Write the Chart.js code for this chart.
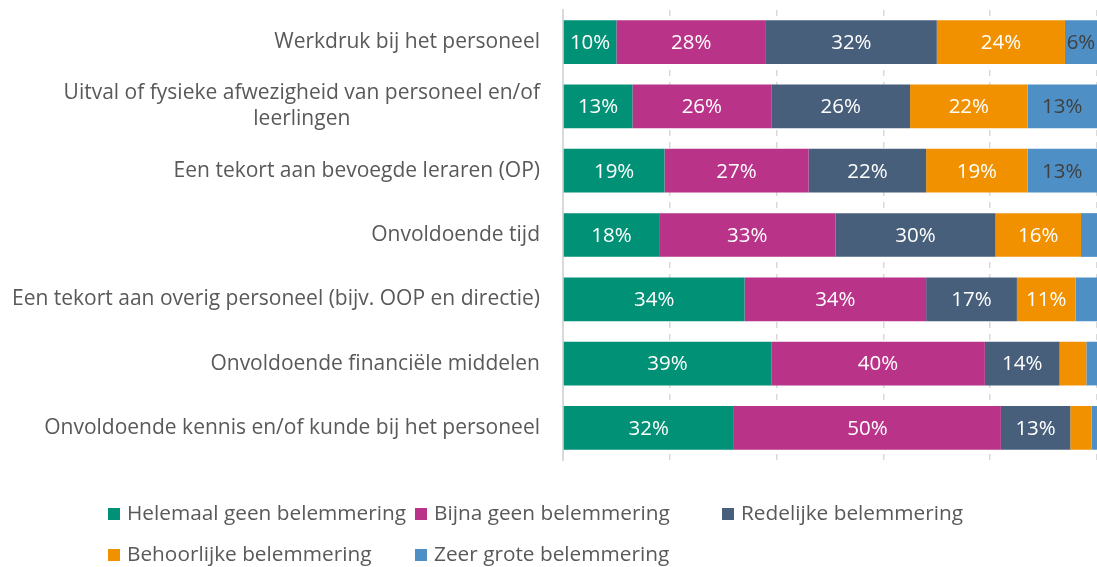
<!DOCTYPE html>
<html>
<head>
<meta charset="utf-8">
<script src="https://cdn.jsdelivr.net/npm/chart.js@4"></script>
<style>
  body { margin: 0; background: #fff; }
  #wrap { position: relative; width: 1097px; height: 567px; }
  #legend { position: absolute; left: 0; top: 0; width: 1097px; height: 567px; pointer-events: none;
            font-family: "Open Sans", sans-serif; font-size: 20.8px; color: #595959; }
  .item { position: absolute; white-space: nowrap; line-height: 26px; }
  .box { display: inline-block; width: 12px; height: 12px; margin-right: 7px; vertical-align: 0px; }
</style>
</head>
<body>
<div id="wrap">
  <canvas id="chart" width="1097" height="567"></canvas>
  <div id="legend"></div>
</div>
<script>
var categories = [
    'Werkdruk bij het personeel',
    ['Uitval of fysieke afwezigheid van personeel en/of', 'leerlingen'],
    'Een tekort aan bevoegde leraren (OP)',
    'Onvoldoende tijd',
    'Een tekort aan overig personeel (bijv. OOP en directie)',
    'Onvoldoende financiële middelen',
    'Onvoldoende kennis en/of kunde bij het personeel'
];
var seriesNames = ['Helemaal geen belemmering', 'Bijna geen belemmering', 'Redelijke belemmering',
                   'Behoorlijke belemmering', 'Zeer grote belemmering'];
var helemaalGeen = [10, 13, 19, 18, 34, 39, 32];
var bijnaGeen    = [28, 26, 27, 33, 34, 40, 50];
var redelijk     = [32, 26, 22, 30, 17, 14, 13];
var behoorlijk   = [24, 22, 19, 16, 11, 5, 4];
var zeerGroot    = [6, 13, 13, 3, 4, 2, 1];
var xTicks = [0, 20, 40, 60, 80, 100];

var colors = ['#009176', '#B93389', '#475F7B', '#F29100', '#4E8FC5'];
var labelColors = ['#ffffff', '#ffffff', '#ffffff', '#ffffff', '#404040'];
var allValues = [helemaalGeen, bijnaGeen, redelijk, behoorlijk, zeerGroot];

var FONT = '"Open Sans", sans-serif';

var datasets = allValues.map(function (vals, i) {
    return {
        label: seriesNames[i],
        data: vals,
        backgroundColor: colors[i],
        borderWidth: 0,
        barPercentage: 0.68,
        categoryPercentage: 1
    };
});

// percentages inside the segments
var barLabels = {
    id: 'barLabels',
    afterDatasetsDraw: function (chart) {
        var ctx = chart.ctx;
        ctx.save();
        ctx.font = '20.5px ' + FONT;
        ctx.textAlign = 'center';
        ctx.textBaseline = 'middle';
        chart.data.datasets.forEach(function (ds, di) {
            var meta = chart.getDatasetMeta(di);
            meta.data.forEach(function (bar, i) {
                var v = ds.data[i];
                if (v < 6) return;
                ctx.fillStyle = labelColors[di];
                ctx.fillText(v + '%', (bar.x + bar.base) / 2, bar.y + 1);
            });
        });
        ctx.restore();
    }
};

// category labels, multi-line ones centred on their own block
var catLabels = {
    id: 'catLabels',
    afterDraw: function (chart) {
        var ctx = chart.ctx;
        var y = chart.scales.y;
        var right = chart.chartArea.left - 23;
        ctx.save();
        ctx.font = '21px ' + FONT;
        ctx.fillStyle = '#595959';
        ctx.textAlign = 'center';
        ctx.textBaseline = 'middle';
        categories.forEach(function (lab, i) {
            var lines = Array.isArray(lab) ? lab : [lab];
            var w = Math.max.apply(null, lines.map(function (l) { return ctx.measureText(l).width; }));
            var cy = y.getPixelForValue(i);
            var lh = 26;
            lines.forEach(function (l, k) {
                ctx.fillText(l, right - w / 2, cy + (k - (lines.length - 1) / 2) * lh);
            });
        });
        ctx.restore();
    }
};

var ctx = document.getElementById('chart').getContext('2d');
var chart = new Chart(ctx, {
    type: 'bar',
    data: { labels: categories, datasets: datasets },
    plugins: [barLabels, catLabels],
    options: {
        indexAxis: 'y',
        responsive: false,
        animation: false,
        layout: { padding: { top: 10, bottom: 107, right: 0, left: 0 } },
        plugins: { legend: { display: false }, tooltip: { enabled: false } },
        scales: {
            x: {
                stacked: true,
                min: 0,
                max: 100,
                afterBuildTicks: function (s) { s.ticks = xTicks.map(function (v) { return { value: v }; }); },
                ticks: { display: false },
                grid: { color: '#D9D9D9', lineWidth: 1.5, drawTicks: false },
                border: { display: false, dash: [6, 6] }
            },
            y: {
                stacked: true,
                ticks: { display: false },
                grid: { display: false },
                border: { color: '#D9D9D9', width: 2 },
                afterFit: function (s) { s.width = 563; }
            }
        }
    }
});

// legend as a fixed grid under the plot
var legend = document.getElementById('legend');
var colX = [108, 415, 722];
var rowY = [499, 540];
seriesNames.forEach(function (name, i) {
    var el = document.createElement('div');
    el.className = 'item';
    el.style.left = colX[i % 3] + 'px';
    el.style.top = rowY[Math.floor(i / 3)] + 'px';
    el.innerHTML = '<span class="box" style="background:' + colors[i] + '"></span>' + name;
    legend.appendChild(el);
});
</script>
</body>
</html>
